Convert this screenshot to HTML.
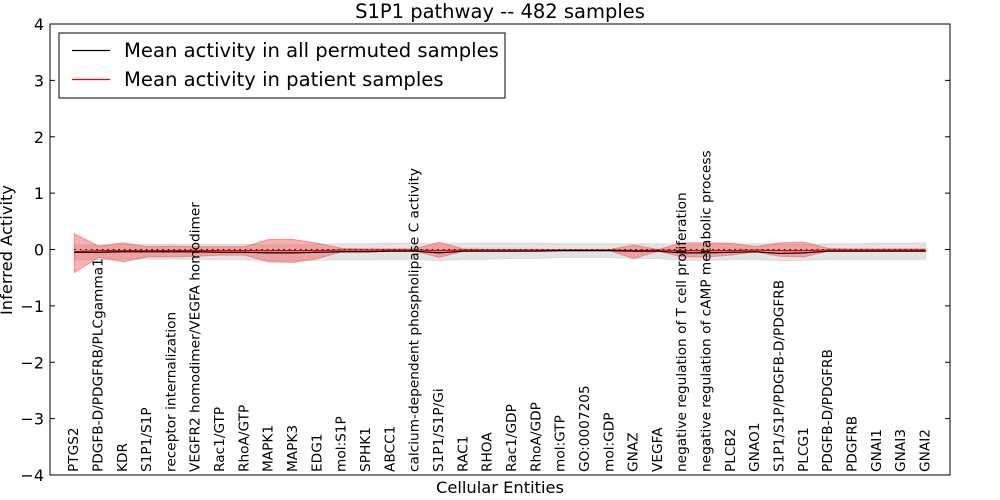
<!DOCTYPE html>
<html><head><meta charset="utf-8"><style>
body{margin:0;background:#fff;}
svg{display:block;font-family:"DejaVu Sans","Liberation Sans",sans-serif;}
</style></head><body>
<svg id="chart" width="1000" height="500" xmlns="http://www.w3.org/2000/svg">
<rect width="1000" height="500" fill="#fff"/>
<text x="500" y="18" font-size="19.5" text-anchor="middle">S1P1 pathway -- 482 samples</text>
<g id="bands"></g>
<g id="lines"></g>
<g id="xlabels"></g>
<g id="yaxis"></g>
<rect x="50" y="24" width="900" height="451" fill="none" stroke="#000" stroke-width="1"/>
<text x="500" y="493" font-size="16.3" text-anchor="middle">Cellular Entities</text>
<text transform="translate(12,250) rotate(-90)" font-size="16.3" text-anchor="middle">Inferred Activity</text>
<g>
<rect x="59" y="33" width="446" height="65" fill="#fff" stroke="#000"/>
<line x1="72" y1="50.5" x2="110" y2="50.5" stroke="#000" stroke-width="1.3"/>
<text x="124" y="57" font-size="19.6">Mean activity in all permuted samples</text>
<line x1="72" y1="79.5" x2="110" y2="79.5" stroke="#e00" stroke-width="1.3"/>
<text x="124" y="86" font-size="19.6">Mean activity in patient samples</text>
</g>
</svg>
<script>
const categories=["PTGS2","PDGFB-D/PDGFRB/PLCgamma1","KDR","S1P1/S1P","receptor internalization","VEGFR2 homodimer/VEGFA homodimer","Rac1/GTP","RhoA/GTP","MAPK1","MAPK3","EDG1","mol:S1P","SPHK1","ABCC1","calcium-dependent phospholipase C activity","S1P1/S1P/Gi","RAC1","RHOA","Rac1/GDP","RhoA/GDP","mol:GTP","GO:0007205","mol:GDP","GNAZ","VEGFA","negative regulation of T cell proliferation","negative regulation of cAMP metabolic process","PLCB2","GNAO1","S1P1/S1P/PDGFB-D/PDGFRB","PLCG1","PDGFB-D/PDGFRB","PDGFRB","GNAI1","GNAI3","GNAI2"];
const permMean=[-0.05,-0.05,-0.04,-0.04,-0.04,-0.04,-0.05,-0.05,-0.06,-0.06,-0.05,-0.04,-0.04,-0.03,-0.03,-0.06,-0.03,-0.03,-0.03,-0.03,-0.02,-0.02,-0.02,-0.03,-0.03,-0.06,-0.06,-0.05,-0.04,-0.07,-0.06,-0.03,-0.03,-0.03,-0.03,-0.03];
const permUpper=[0.08,0.08,0.09,0.09,0.09,0.09,0.09,0.09,0.08,0.08,0.09,0.1,0.1,0.11,0.11,0.09,0.11,0.11,0.11,0.11,0.1,0.1,0.1,0.1,0.1,0.09,0.09,0.1,0.1,0.09,0.09,0.1,0.1,0.11,0.11,0.11];
const permLower=[-0.18,-0.18,-0.17,-0.17,-0.17,-0.17,-0.18,-0.18,-0.2,-0.2,-0.19,-0.18,-0.18,-0.17,-0.17,-0.2,-0.17,-0.17,-0.16,-0.16,-0.14,-0.14,-0.14,-0.16,-0.16,-0.19,-0.19,-0.18,-0.17,-0.2,-0.19,-0.17,-0.17,-0.17,-0.17,-0.17];
const patMean=[-0.04,-0.02,-0.02,-0.02,-0.02,-0.02,-0.02,-0.02,-0.02,-0.02,-0.02,-0.01,-0.01,-0.01,-0.01,-0.02,-0.01,-0.01,-0.01,-0.01,-0.01,-0.01,-0.01,-0.02,-0.01,-0.02,-0.02,-0.02,-0.01,-0.02,-0.02,-0.01,-0.01,-0.01,-0.01,-0.01];
const patUpper=[0.28,0.06,0.12,0.05,0.06,0.05,0.05,0.05,0.18,0.18,0.11,0.02,0.01,0.01,0.01,0.13,0.01,0.0,0.0,0.0,0.0,0.0,0.0,0.08,0.0,0.12,0.12,0.11,0.05,0.12,0.13,0.02,0.01,0.01,0.01,0.01];
const patLower=[-0.41,-0.14,-0.22,-0.13,-0.13,-0.12,-0.10,-0.10,-0.22,-0.23,-0.16,-0.04,-0.03,-0.03,-0.03,-0.14,-0.03,-0.02,-0.02,-0.02,-0.02,-0.02,-0.02,-0.16,-0.03,-0.13,-0.13,-0.10,-0.04,-0.12,-0.13,-0.03,-0.03,-0.03,-0.03,-0.03];
const yTicks=[-4,-3,-2,-1,0,1,2,3,4];
const NS="http://www.w3.org/2000/svg";
const L=50,R=950,T=24,B=475;
const xs=i=>L+(i+1)*(R-L)/(categories.length+1);
const ys=v=>B-(v+4)*(B-T)/8;
function mk(tag,attrs,parent){const e=document.createElementNS(NS,tag);for(const k in attrs)e.setAttribute(k,attrs[k]);parent.appendChild(e);return e;}
function band(up,lo){let d="M"+up.map((v,i)=>xs(i)+","+ys(v)).join("L");for(let i=lo.length-1;i>=0;i--)d+="L"+xs(i)+","+ys(lo[i]);return d+"Z";}
function line(arr){return "M"+arr.map((v,i)=>xs(i)+","+ys(v)).join("L");}
const bands=document.getElementById("bands"),lines=document.getElementById("lines");
const gb=mk("path",{d:band(permUpper,permLower),fill:"#e3e3e3",stroke:"#d8d8d8"},bands);


const rb=mk("path",{d:band(patUpper,patLower),fill:"rgba(240,80,80,0.45)",stroke:"rgba(240,80,80,0.5)"},bands);


const zl=mk("line",{x1:xs(0),x2:xs(categories.length-1),y1:ys(0),y2:ys(0),stroke:"#000","stroke-dasharray":"1.5,4"},lines);


const pl=mk("path",{d:line(patMean),fill:"none",stroke:"#e00","stroke-width":1.2},lines);


const bl=mk("path",{d:line(permMean),fill:"none",stroke:"#000","stroke-width":1.2},lines);


const xl=document.getElementById("xlabels");
categories.forEach((c,i)=>{const t=mk("text",{transform:`translate(${xs(i)+3.8},472) rotate(-90)`,"font-size":13.7},xl);t.textContent=c;

});
const ya=document.getElementById("yaxis");
yTicks.forEach(v=>{const y=ys(v);
const a=mk("line",{x1:L,x2:L+5,y1:y,y2:y,stroke:"#000"},ya);
const b=mk("line",{x1:R-5,x2:R,y1:y,y2:y,stroke:"#000"},ya);
const t=mk("text",{x:L-6,y:y+6,"font-size":16,"text-anchor":"end"},ya);t.textContent=(v<0?"\u2212":"")+Math.abs(v);

});
</script>
</body></html>
